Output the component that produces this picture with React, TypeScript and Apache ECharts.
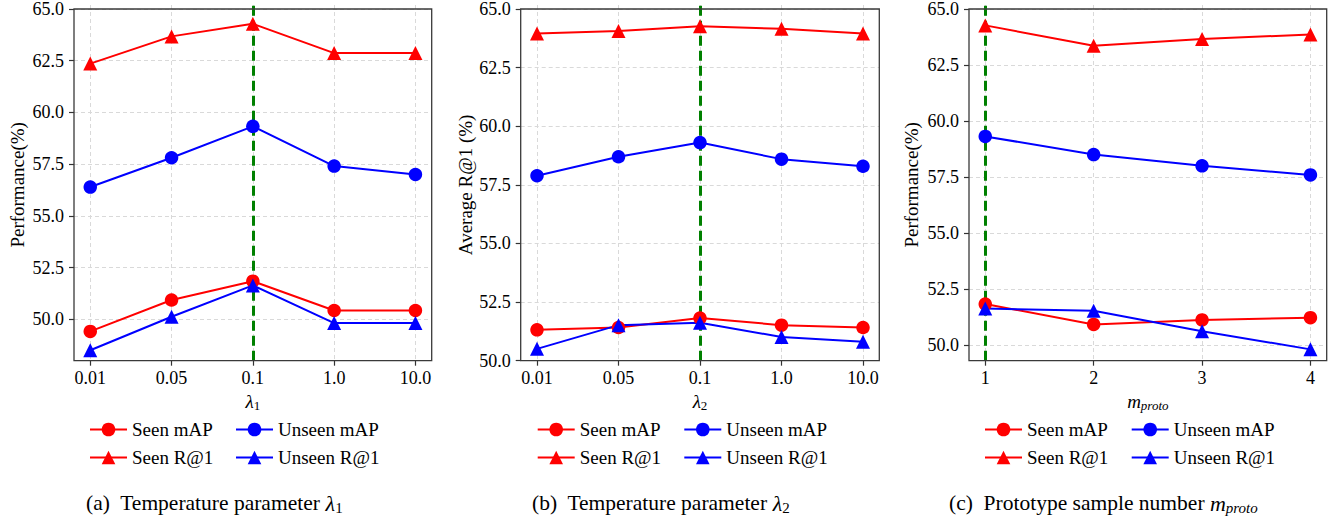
import React, { useEffect, useRef } from 'react';
import * as echarts from 'echarts';

const FONT = 'Liberation Serif';

// categories / tick labels
const lambda1Labels = ['0.01', '0.05', '0.1', '1.0', '10.0'];
const lambda2Labels = ['0.01', '0.05', '0.1', '1.0', '10.0'];
const protoLabels = ['1', '2', '3', '4'];
const yTickValues = [50.0, 52.5, 55.0, 57.5, 60.0, 62.5, 65.0];

// panel (a): temperature lambda1
const aSeenMAP = [49.4, 50.9, 51.8, 50.4, 50.4];
const aUnseenMAP = [56.3, 57.7, 59.2, 57.3, 56.9];
const aSeenR1 = [62.2, 63.5, 64.1, 62.7, 62.7];
const aUnseenR1 = [48.5, 50.1, 51.6, 49.8, 49.8];

// panel (b): temperature lambda2
const bSeenMAP = [51.3, 51.4, 51.8, 51.5, 51.4];
const bUnseenMAP = [57.8, 58.6, 59.2, 58.5, 58.2];
const bSeenR1 = [63.8, 63.9, 64.1, 64.0, 63.8];
const bUnseenR1 = [50.5, 51.5, 51.6, 51.0, 50.8];

// panel (c): prototype sample number
const cSeenMAP = [51.8, 50.9, 51.1, 51.2];
const cUnseenMAP = [59.2, 58.4, 57.9, 57.5];
const cSeenR1 = [64.1, 63.2, 63.5, 63.7];
const cUnseenR1 = [51.6, 51.5, 50.6, 49.8];

const seriesNames = ['Seen mAP', 'Unseen mAP', 'Seen R@1', 'Unseen R@1'];
const seriesColors = ['#ff0000', '#0000ff', '#ff0000', '#0000ff'];
const seriesSymbols = ['circle', 'circle', 'triangle', 'triangle'];

const subRich = {
  i: { fontFamily: FONT, fontStyle: 'italic', fontSize: 19, color: '#000' },
  s: { fontFamily: FONT, fontSize: 13, color: '#000', padding: [8, 0, 0, 0] },
  si: { fontFamily: FONT, fontStyle: 'italic', fontSize: 13, color: '#000', padding: [8, 0, 0, 0] },
};

const captionRich = {
  t: { fontFamily: FONT, fontSize: 21.5, color: '#000' },
  i: { fontFamily: FONT, fontStyle: 'italic', fontSize: 22, color: '#000' },
  s: { fontFamily: FONT, fontSize: 15, color: '#000', padding: [9, 0, 0, 0] },
  si: { fontFamily: FONT, fontStyle: 'italic', fontSize: 15, color: '#000', padding: [9, 0, 0, 0] },
};

const panels = [
  {
    left: 74, width: 357.7, cats: lambda1Labels,
    values: [aSeenMAP, aUnseenMAP, aSeenR1, aUnseenR1],
    yMin: 48, yMax: 65, best: '0.1',
    yName: 'Performance(%)', yNameGap: 47,
    xName: '{i|λ}{s|1}', legendCols: [89, 235],
  },
  {
    left: 520.7, width: 358.6, cats: lambda2Labels,
    values: [bSeenMAP, bUnseenMAP, bSeenR1, bUnseenR1],
    yMin: 50, yMax: 65, best: '0.1',
    yName: 'Average R@1 (%)', yNameGap: 46,
    xName: '{i|λ}{s|2}', legendCols: [536.7, 683.3],
  },
  {
    left: 969, width: 357.7, cats: protoLabels,
    values: [cSeenMAP, cUnseenMAP, cSeenR1, cUnseenR1],
    yMin: 49.3, yMax: 65, best: '1',
    yName: 'Performance(%)', yNameGap: 48,
    xName: '{i|m}{si|proto}', legendCols: [984, 1130.7],
  },
];

const captions = [
  { x: 86, text: '{t|(a)  Temperature parameter }{i|λ}{s|1}' },
  { x: 532, text: '{t|(b)  Temperature parameter }{i|λ}{s|2}' },
  { x: 949, text: '{t|(c)  Prototype sample number }{i|m}{si|proto}' },
];

const TOP = 5;
const HEIGHT = 355.7;

function buildOption() {
  const grid: any[] = [];
  const xAxis: any[] = [];
  const yAxis: any[] = [];
  const series: any[] = [];
  const legend: any[] = [];
  const tickLine = { color: '#333', width: 1.2 };
  const splitLine = { show: true, lineStyle: { color: '#d9d9d9', type: [4, 3], width: 1 } };

  panels.forEach((p, i) => {
    const pad = (p.width * 0.05) / 1.1;
    grid.push({
      left: p.left, top: TOP, width: p.width, height: HEIGHT, z: 10,
      show: true, borderColor: '#3a3a3a', borderWidth: 1.3, backgroundColor: 'transparent',
    });
    grid.push({ left: p.left + pad, top: TOP, width: p.width - 2 * pad, height: HEIGHT });

    xAxis.push({ gridIndex: 2 * i, type: 'value', min: 0, max: 1, show: false });
    xAxis.push({
      gridIndex: 2 * i + 1, type: 'category', data: p.cats, boundaryGap: false,
      axisLine: { show: false },
      axisTick: { show: true, inside: false, length: 5, lineStyle: tickLine },
      axisLabel: { margin: 8, fontSize: 18, fontFamily: FONT, color: '#000' },
      splitLine,
      name: p.xName, nameLocation: 'middle', nameGap: 23,
      nameTextStyle: { rich: subRich },
    });

    yAxis.push({
      gridIndex: 2 * i, type: 'value', min: p.yMin, max: p.yMax,
      axisLine: { show: false },
      axisTick: { show: true, inside: false, length: 5, lineStyle: tickLine, customValues: yTickValues },
      axisLabel: {
        customValues: yTickValues, margin: 10, fontSize: 18, fontFamily: FONT, color: '#000',
        formatter: (v: number) => v.toFixed(1),
      },
      splitLine,
      name: p.yName, nameLocation: 'middle', nameGap: p.yNameGap,
      nameTextStyle: { fontSize: 19, fontFamily: FONT, color: '#000' },
    });
    yAxis.push({ gridIndex: 2 * i + 1, type: 'value', min: p.yMin, max: p.yMax, show: false });

    p.values.forEach((vals, k) => {
      const s: any = {
        type: 'line', name: seriesNames[k],
        xAxisIndex: 2 * i + 1, yAxisIndex: 2 * i + 1,
        data: vals,
        symbol: seriesSymbols[k], symbolSize: seriesSymbols[k] === 'circle' ? 13.5 : 14,
        lineStyle: { color: seriesColors[k], width: 2 },
        itemStyle: { color: seriesColors[k] },
        showSymbol: true, z: 3,
      };
      if (k === 0) {
        s.markLine = {
          silent: true, z: 1, symbol: ['none', 'none'], label: { show: false },
          lineStyle: { color: '#008000', width: 3, type: [10, 5] },
          data: [{ xAxis: p.best }],
        };
      }
      series.push(s);
    });

    const common = {
      orient: 'vertical', top: 419.5, itemWidth: 37, itemHeight: 17, itemGap: 8, padding: 0,
      selectedMode: false,
      textStyle: { fontFamily: FONT, fontSize: 19, color: '#000', lineHeight: 20 },
    };
    legend.push({ ...common, left: p.legendCols[0], data: ['Seen mAP', 'Seen R@1'] });
    legend.push({ ...common, left: p.legendCols[1], data: ['Unseen mAP', 'Unseen R@1'] });
  });

  const graphic = captions.map((c) => ({
    type: 'text', x: c.x, y: 503,
    style: { text: c.text, rich: captionRich, verticalAlign: 'middle', fill: '#000' },
  }));

  return {
    animation: false,
    backgroundColor: '#ffffff',
    textStyle: { fontFamily: FONT },
    grid, xAxis, yAxis, series, legend, graphic,
  };
}

export default function App() {
  const ref = useRef<HTMLDivElement>(null);
  useEffect(() => {
    if (!ref.current) return;
    const chart = echarts.init(ref.current, null, { renderer: 'svg' });
    chart.setOption(buildOption() as any);
    return () => chart.dispose();
  }, []);
  return (
    <div
      ref={ref}
      style={{ position: 'absolute', left: 0, top: 0, width: 1343, height: 523, background: '#fff' }}
    />
  );
}
